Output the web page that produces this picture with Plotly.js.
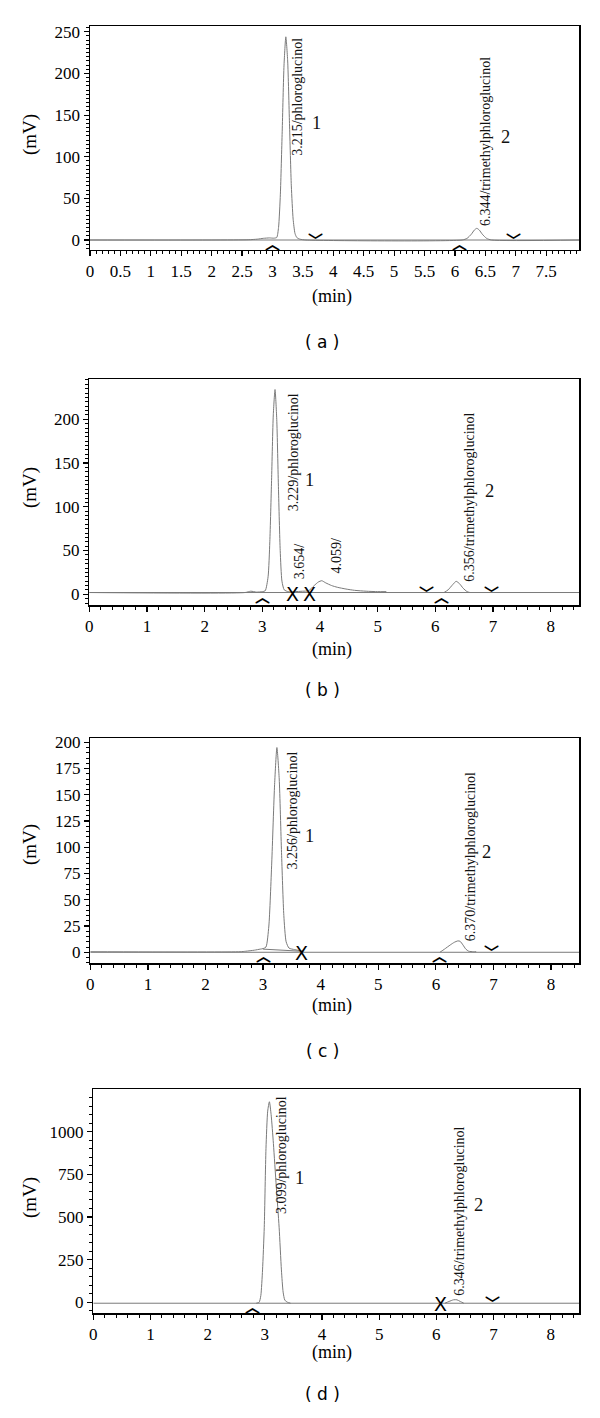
<!DOCTYPE html>
<html><head><meta charset="utf-8">
<script src="https://cdn.plot.ly/plotly-3.0.1.min.js"></script>
<style>html,body{margin:0;padding:0;background:#fff}#chart{width:600px;height:1418px}</style>
</head><body><div id="chart"></div>
<script>
// ---------- Panel (a) ----------
const timeA   = [0, 2.6, 2.75, 2.85, 2.95, 3.02, 3.07, 3.10, 3.13, 3.16, 3.19, 3.22, 3.25, 3.28, 3.31, 3.34, 3.37, 3.40, 3.45, 3.55, 6.12, 6.20, 6.27, 6.32, 6.36, 6.40, 6.45, 6.52, 6.60, 8.05];
const signalA = [0, 0.3, 1.0, 2.0, 2.5, 2.2, 3, 15, 55, 130, 210, 244, 215, 140, 65, 25, 8, 3, 1, 0, 0, 2, 7, 12, 14, 12, 7, 2, 0, 0];
const baselineA = 0;
const startMarksA = [3.0, 6.07];
const endMarksA   = [3.7, 6.97];
const peakLabelsA = ["3.215/phloroglucinol", "6.344/trimethylphloroglucinol"];
const peakLabelPosA = [[3.42, 172], [6.50, 118]];
const peakNumsA = ["1", "2"];
const peakNumPosA = [[3.73, 140], [6.83, 124]];
const xTicksA = [0, 0.5, 1, 1.5, 2, 2.5, 3, 3.5, 4, 4.5, 5, 5.5, 6, 6.5, 7, 7.5];
const yTicksA = [0, 50, 100, 150, 200, 250];

// ---------- Panel (b) ----------
const timeB   = [0, 2.7, 2.8, 2.9, 3.0, 3.05, 3.10, 3.13, 3.16, 3.19, 3.22, 3.25, 3.28, 3.31, 3.34, 3.38, 3.45, 3.55, 3.70, 3.80, 3.90, 3.97, 4.03, 4.10, 4.20, 4.30, 4.45, 4.60, 4.80, 5.00, 5.15];
const signalB = [2, 2, 3.5, 2.5, 3, 4, 20, 60, 130, 205, 234, 200, 120, 50, 15, 5, 3, 3, 3.5, 4, 10, 14, 15.5, 13, 10, 8, 6, 4.5, 3.5, 3, 3];
const timeB2   = [6.15, 6.22, 6.30, 6.36, 6.42, 6.48, 6.55, 6.60];
const signalB2 = [2, 5, 11, 14.8, 12, 7, 3, 2];
const baselineB = 2;
const startMarksB = [3.0, 3.52, 3.81, 6.10];
const endMarksB   = [3.52, 3.81, 5.84, 6.97];
const peakLabelsB = ["3.229/phloroglucinol", "3.654/", "4.059/", "6.356/trimethylphloroglucinol"];
const peakLabelPosB = [[3.54, 163], [3.64, 38], [4.29, 44], [6.60, 111.5]];
const peakNumsB = ["1", "2"];
const peakNumPosB = [[3.81, 130.6], [6.93, 118]];
const xTicksB = [0, 1, 2, 3, 4, 5, 6, 7, 8];
const yTicksB = [0, 50, 100, 150, 200];

// ---------- Panel (c) ----------
const timeC   = [0, 2.6, 2.7, 2.85, 2.95, 3.0, 3.05, 3.10, 3.15, 3.20, 3.24, 3.28, 3.32, 3.36, 3.40, 3.45, 3.55, 3.65, 3.70];
const signalC = [0.5, 0.5, 1, 2, 3, 3.5, 5, 25, 85, 160, 195, 165, 95, 35, 10, 4, 2.5, 1.5, 1];
const timeC2   = [6.07, 6.15, 6.25, 6.32, 6.38, 6.42, 6.47, 6.52, 6.57, 6.65, 6.70];
const signalC2 = [0, 3, 7, 9.5, 10.8, 10.5, 7, 3, 1, 0.5, 0.5];
const intBaseTimeC = [3.0, 3.66];
const intBaseValC  = [3, 1];
const baselineC = 0;
const startMarksC = [3.0, 3.66, 6.06];
const endMarksC   = [3.66, 6.96];
const peakLabelsC = ["3.256/phloroglucinol", "6.370/trimethylphloroglucinol"];
const peakLabelPosC = [[3.51, 135.5], [6.60, 91]];
const peakNumsC = ["1", "2"];
const peakNumPosC = [[3.81, 110.8], [6.88, 95.8]];
const xTicksC = [0, 1, 2, 3, 4, 5, 6, 7, 8];
const yTicksC = [0, 25, 50, 75, 100, 125, 150, 175, 200];

// ---------- Panel (d) ----------
const timeD   = [2.85, 2.90, 2.93, 2.96, 2.99, 3.02, 3.05, 3.08, 3.11, 3.15, 3.20, 3.25, 3.29, 3.32, 3.35, 3.40, 3.45];
const signalD = [-5, 0, 40, 190, 440, 900, 1120, 1175, 1100, 930, 680, 440, 190, 60, 13, 0, -5];
const timeD2   = [6.15, 6.22, 6.30, 6.36, 6.42, 6.48];
const signalD2 = [-5, 5, 15, 15, 5, -5];
const baselineD = -5;
const startMarksD = [2.79, 6.07];
const endMarksD   = [6.07, 6.98];
const peakLabelsD = ["3.099/phloroglucinol", "6.346/trimethylphloroglucinol"];
const peakLabelPosD = [[3.29, 865], [6.41, 536]];
const peakNumsD = ["1", "2"];
const peakNumPosD = [[3.61, 726], [6.73, 570]];
const xTicksD = [0, 1, 2, 3, 4, 5, 6, 7, 8];
const yTicksD = [0, 250, 500, 750, 1000];

const captions = ["( a )", "( b )", "( c )", "( d )"];

// ---------- build ----------
const serif = "Liberation Serif, Times New Roman, serif";
const lineGray = "#7a7a7a";
const panels = [
  {id:"", xr:[0, 8.04], yr:[-12, 257], xd:[0.15, 0.965], yd:[0.8237, 0.98166], xt:xTicksA, yt:yTicksA, xminor:0.1, yminor:5,
   traces:[[timeA, signalA]], base:baselineA, xEnd:8.04, ib:null, s:startMarksA, e:endMarksA, pl:peakLabelsA, pp:peakLabelPosA, pn:peakNumsA, pnp:peakNumPosA,
   mv:135, mn:296, cap:342},
  {id:"2", xr:[0, 8.49], yr:[-12.6, 245.7], xd:[0.1488, 0.965], yd:[0.57313, 0.73251], xt:xTicksB, yt:yTicksB, xminor:0.2, yminor:5,
   traces:[[timeB, signalB],[timeB2, signalB2]], base:baselineB, xEnd:8.49, ib:null, s:startMarksB, e:endMarksB, pl:peakLabelsB, pp:peakLabelPosB, pn:peakNumsB, pnp:peakNumPosB,
   mv:488, mn:649, cap:690},
  {id:"3", xr:[0, 8.49], yr:[-10.5, 203.8], xd:[0.1505, 0.9655], yd:[0.32066, 0.47934], xt:xTicksC, yt:yTicksC, xminor:0.2, yminor:5,
   traces:[[timeC, signalC],[timeC2, signalC2]], base:baselineC, xEnd:8.49, ib:[intBaseTimeC, intBaseValC], s:startMarksC, e:endMarksC, pl:peakLabelsC, pp:peakLabelPosC, pn:peakNumsC, pnp:peakNumPosC,
   mv:845, mn:1005, cap:1051},
  {id:"4", xr:[0, 8.5], yr:[-64, 1248], xd:[0.1555, 0.9655], yd:[0.07384, 0.23181], xt:xTicksD, yt:yTicksD, xminor:0.2, yminor:50,
   traces:[[timeD, signalD],[timeD2, signalD2]], base:baselineD, xEnd:8.5, ib:null, s:startMarksD, e:endMarksD, pl:peakLabelsD, pp:peakLabelPosD, pn:peakNumsD, pnp:peakNumPosD,
   mv:1198, mn:1352, cap:1394}
];

const data = [];
const layout = {width:600, height:1418, margin:{l:0,r:0,t:0,b:0}, paper_bgcolor:"#fff", plot_bgcolor:"#fff",
  showlegend:false, annotations:[], font:{family:serif, color:"#000"}};
const py = p => 1 - p/1418;

panels.forEach(p => {
  const xa = "x"+p.id, ya = "y"+p.id;
  // baseline across the whole run
  data.push({x:[0, p.xEnd], y:[p.base, p.base], xaxis:xa, yaxis:ya, mode:"lines", line:{color:lineGray, width:1}, hoverinfo:"skip"});
  if (p.ib) data.push({x:p.ib[0], y:p.ib[1], xaxis:xa, yaxis:ya, mode:"lines", line:{color:lineGray, width:1}});
  p.traces.forEach(t => data.push({x:t[0], y:t[1], xaxis:xa, yaxis:ya, mode:"lines", line:{color:lineGray, width:1, shape:"spline", smoothing:0.6}}));
  const axCommon = {showline:true, linecolor:"#000", linewidth:1.5, mirror:true, ticks:"outside", ticklen:5, tickwidth:1.2, tickcolor:"#000",
    showgrid:false, zeroline:false, tickfont:{family:serif, size:17, color:"#000"}, fixedrange:true};
  layout["xaxis"+p.id] = Object.assign({}, axCommon, {domain:p.xd, range:p.xr, anchor:ya, tickvals:p.xt, ticktext:p.xt.map(String),
    minor:{dtick:p.xminor, tick0:0, ticks:"outside", ticklen:3, tickcolor:"#000", tickwidth:1}});
  layout["yaxis"+p.id] = Object.assign({}, axCommon, {domain:p.yd, range:p.yr, anchor:xa, tickvals:p.yt, ticktext:p.yt.map(String),
    minor:{dtick:p.yminor, tick0:0, ticks:"outside", ticklen:3, tickcolor:"#000", tickwidth:1}});
  const A = layout.annotations;
  const both = p.s.filter(t => p.e.includes(t));
  p.s.filter(t => !both.includes(t)).forEach(t => A.push({xref:xa, yref:ya, x:t, y:p.base, text:"︿", showarrow:false, yanchor:"top", xanchor:"center", yshift:10,
    font:{family:"Noto Sans CJK SC", size:15, color:"#000", weight:"bold"}}));
  p.e.filter(t => !both.includes(t)).forEach(t => A.push({xref:xa, yref:ya, x:t, y:p.base, text:"﹀", showarrow:false, yanchor:"bottom", xanchor:"center", yshift:-12,
    font:{family:"Noto Sans CJK SC", size:15, color:"#000", weight:"bold"}}));
  both.forEach(t => A.push({xref:xa, yref:ya, x:t, y:p.base, text:"X", showarrow:false, yanchor:"middle", xanchor:"center", yshift:-1,
    font:{family:"DejaVu Sans", size:19, color:"#000"}}));
  p.pl.forEach((s,i) => A.push({xref:xa, yref:ya, x:p.pp[i][0], y:p.pp[i][1], text:s, textangle:-90, showarrow:false,
    xanchor:"center", yanchor:"middle", font:{family:serif, size:14, color:"#111"}}));
  p.pn.forEach((s,i) => A.push({xref:xa, yref:ya, x:p.pnp[i][0], y:p.pnp[i][1], text:s, showarrow:false,
    xanchor:"center", yanchor:"middle", font:{family:serif, size:18.5, color:"#111"}}));
  A.push({xref:"paper", yref:"paper", x:30/600, y:py(p.mv), text:"(mV)", textangle:-90, showarrow:false,
    xanchor:"center", yanchor:"middle", font:{family:serif, size:19}});
  A.push({xref:"paper", yref:"paper", x:332/600, y:py(p.mn), text:"(min)", showarrow:false,
    xanchor:"center", yanchor:"middle", font:{family:serif, size:18}});
});
captions.forEach((c,i) => layout.annotations.push({xref:"paper", yref:"paper", x:322/600, y:py(panels[i].cap), text:c, showarrow:false,
  xanchor:"center", yanchor:"middle", font:{family:"DejaVu Sans, sans-serif", size:17, color:"#000"}}));

Plotly.newPlot("chart", data, layout, {staticPlot:true});
</script></body></html>
